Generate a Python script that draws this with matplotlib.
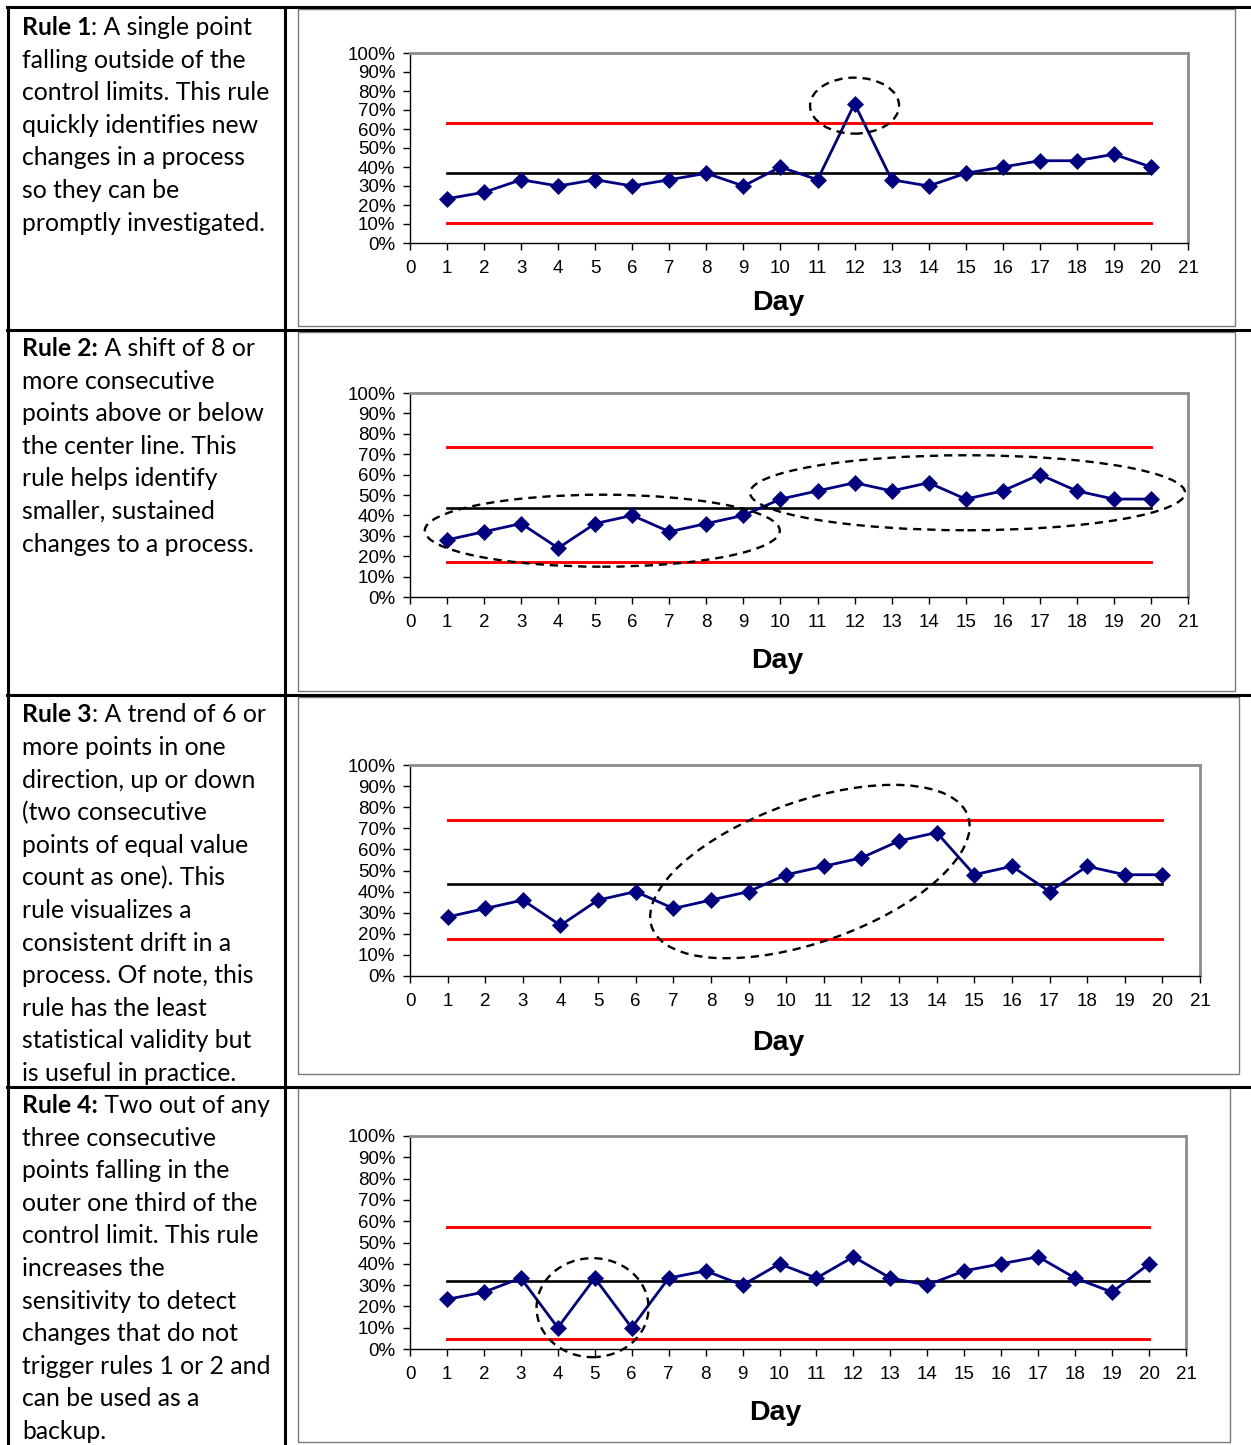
import matplotlib
matplotlib.use('Agg')
import matplotlib.pyplot as plt
import matplotlib.transforms as mtransforms
from matplotlib.lines import Line2D
from matplotlib.patches import Rectangle, Ellipse
from matplotlib.ticker import PercentFormatter, MultipleLocator

plt.rcParams['font.family'] = ['Liberation Sans', 'DejaVu Sans']

# ~~~ DATA ~~~
days = list(range(1, 21))
rule1 = [23.3, 26.7, 33.3, 30, 33.3, 30, 33.3, 36.7, 30, 40,
         33.3, 73.3, 33.3, 30, 36.7, 40, 43.3, 43.3, 46.7, 40]
rule2 = [28, 32, 36, 24, 36, 40, 32, 36, 40, 48,
         52, 56, 52, 56, 48, 52, 60, 52, 48, 48]
rule3 = [28, 32, 36, 24, 36, 40, 32, 36, 40, 48,
         52, 56, 64, 68, 48, 52, 40, 52, 48, 48]
rule4 = [23.3, 26.7, 33.3, 10, 33.3, 10, 33.3, 36.7, 30, 40,
         33.3, 43.3, 33.3, 30, 36.7, 40, 43.3, 33.3, 26.7, 40]
series = [rule1, rule2, rule3, rule4]
center = [36.8, 43.8, 43.8, 31.8]
ucl = [63.3, 73.6, 73.7, 57.2]
lcl = [10.3, 17.4, 17.6, 4.9]

# circled points: (day, percent, width px, height px, angle)
rings = [
    [(12.0, 72.3, 89, 56, 0)],
    [(5.19, 32.5, 355, 72, 0), (15.05, 51.1, 435, 75, 0)],
    [(10.63, 49.5, 335, 141, 19.4)],
    [(4.94, 19.4, 112, 99, 0)],
]

rule_bold = ['Rule 1', 'Rule 2:', 'Rule 3', 'Rule 4:']
rule_text = [
    [': A single point', 'falling outside of the', 'control limits. This rule',
     'quickly identifies new', 'changes in a process', 'so they can be',
     'promptly investigated.'],
    [' A shift of 8 or', 'more consecutive', 'points above or below',
     'the center line. This', 'rule helps identify', 'smaller, sustained',
     'changes to a process.'],
    [': A trend of 6 or', 'more points in one', 'direction, up or down',
     '(two consecutive', 'points of equal value', 'count as one). This',
     'rule visualizes a', 'consistent drift in a', 'process. Of note, this',
     'rule has the least', 'statistical validity but', 'is useful in practice.'],
    [' Two out of any', 'three consecutive', 'points falling in the',
     'outer one third of the', 'control limit. This rule', 'increases the',
     'sensitivity to detect', 'changes that do not', 'trigger rules 1 or 2 and',
     'can be used as a', 'backup.'],
]

# ~~~ LAYOUT (pixels, from top left) ~~~
W, H = 1251, 1445
axes_px = [(410, 53, 1188, 243), (410, 393, 1188, 597),
           (410, 765, 1200, 976), (410, 1136, 1186, 1349)]
frames_px = [(298, 9, 1235, 326), (298, 332, 1235, 691),
             (298, 697, 1239, 1074), (298, 1088, 1230, 1442)]
day_px = [(778, 303), (777, 661), (778, 1043), (775, 1413)]
text_top = [35, 356, 722.5, 1113]
line_step = 32.6
text_size = 17.8
text_font = ['Lato', 'DejaVu Sans']

fig = plt.figure(figsize=(W / 100, H / 100), dpi=100)


def fx(x):
    return x / W


def fy(y):
    return 1 - y / H


def hline(x0, x1, y, **kw):
    fig.add_artist(Line2D([fx(x0), fx(x1)], [fy(y), fy(y)], transform=fig.transFigure, **kw))


def vline(x, y0, y1, **kw):
    fig.add_artist(Line2D([fx(x), fx(x)], [fy(y0), fy(y1)], transform=fig.transFigure, **kw))


# table grid
tab = dict(color='black', lw=2.2, solid_capstyle='projecting')
hline(7, 1251, 7, **tab)
for y in [330, 695, 1087]:
    hline(7, 1251, y, **tab)
vline(8, 7, 1445, **tab)
vline(285, 7, 1445, **tab)

# chart frames
for l, t, r, b in frames_px:
    fig.add_artist(Rectangle((fx(l), fy(b)), fx(r) - fx(l), fy(t) - fy(b),
                             transform=fig.transFigure, fill=False,
                             edgecolor='#7a7a7a', lw=1.0))

for i in range(4):
    l, t, r, b = axes_px[i]
    ax = fig.add_axes([fx(l), fy(b), fx(r) - fx(l), fy(t) - fy(b)])
    ax.set_xlim(0, 21)
    ax.set_ylim(0, 100)
    ax.plot([1, 20], [ucl[i]] * 2, color='#ff0000', lw=2.1, zorder=2)
    ax.plot([1, 20], [lcl[i]] * 2, color='#ff0000', lw=2.1, zorder=2)
    ax.plot([1, 20], [center[i]] * 2, color='black', lw=1.9, zorder=2)
    ax.plot(days, series[i], color='#000080', lw=2.0, marker='D', ms=8,
            mfc='#000080', mec='#000080', mew=0.5, zorder=4, clip_on=False)
    for xc, yc, w, h, ang in rings[i]:
        tr = mtransforms.ScaledTranslation(xc, yc, ax.transData)
        ax.add_patch(Ellipse((0, 0), w, h, angle=ang, transform=tr, fill=False,
                             edgecolor='black', lw=1.7, ls=(0, (3.5, 2.5)),
                             zorder=5, clip_on=False))
    ax.xaxis.set_major_locator(MultipleLocator(1))
    ax.yaxis.set_major_locator(MultipleLocator(10))
    ax.yaxis.set_major_formatter(PercentFormatter(100, decimals=0))
    ax.tick_params(axis='both', direction='out', length=5, width=1,
                   labelsize=13.5, colors='black')
    ax.tick_params(axis='x', pad=7)
    ax.tick_params(axis='y', pad=5.5)
    for s in ['left', 'bottom']:
        ax.spines[s].set_color('black')
        ax.spines[s].set_linewidth(1.0)
    for s in ['top', 'right']:
        ax.spines[s].set_color('#8c8c8c')
        ax.spines[s].set_linewidth(2.0)
    dx, dy = day_px[i]
    fig.text(fx(dx), fy(dy), 'Day', ha='center', va='center',
             fontsize=20.5, fontweight='bold')

    # rule description
    base = text_top[i]
    bt = fig.text(fx(22), fy(base), rule_bold[i], fontsize=text_size,
                  fontweight='bold', family=text_font, va='baseline')
    ax.annotate(rule_text[i][0], xy=(1, 0), xycoords=bt, va='bottom', ha='left',
                fontsize=text_size, family=text_font, annotation_clip=False)
    for k, line in enumerate(rule_text[i][1:], start=1):
        fig.text(fx(22), fy(base + k * line_step), line, fontsize=text_size,
                 family=text_font, va='baseline')

fig.savefig('out.png', dpi=100)
